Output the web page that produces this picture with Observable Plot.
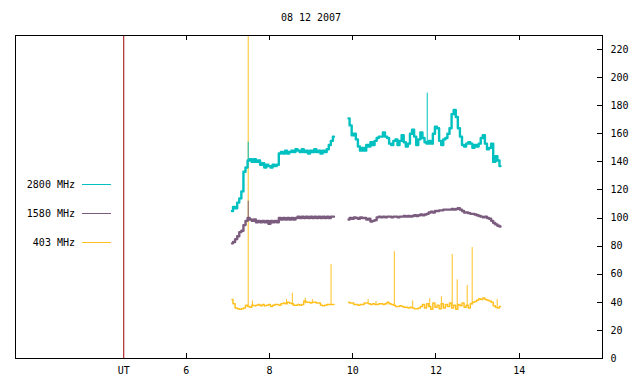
<!DOCTYPE html>
<html><head><meta charset="utf-8">
<script src="https://cdn.jsdelivr.net/npm/d3@7"></script>
<script src="https://cdn.jsdelivr.net/npm/@observablehq/plot@0.6"></script>
<style>
body{margin:0;background:#fff;}
#wrap{position:relative;width:640px;height:384px;font-family:"DejaVu Sans Mono",monospace;}
#title{position:absolute;top:12px;left:0;width:622px;text-align:center;font-size:10px;line-height:12px;color:#000;}
svg{display:block;}
</style></head><body><div id="wrap"></div>
<script>
const titleText = "08 12 2007";
const utHour = 4.5;
const xTickValues = [4.5, 6, 8, 10, 12, 14];
const xTickLabels = ["UT", "6", "8", "10", "12", "14"];
const xMinorTicks = [6, 8, 10, 12, 14];
const yTickValues = [0, 20, 40, 60, 80, 100, 120, 140, 160, 180, 200, 220];
const seriesNames = ["2800 MHz", "1580 MHz", "403 MHz"];
const seriesColors = ["#00c0c0", "#7b5c7e", "#ffc020"];

// morning segment (UT hours)
const timesA = [7.10,7.15,7.20,7.25,7.30,7.35,7.40,7.45,7.50,7.55,
  7.60,7.65,7.70,7.75,7.80,7.85,7.90,7.95,8.00,8.05,
  8.10,8.15,8.20,8.25,8.30,8.35,8.40,8.45,8.50,8.55,
  8.60,8.65,8.70,8.75,8.80,8.85,8.90,8.95,9.00,9.05,
  9.10,9.15,9.20,9.25,9.30,9.35,9.40,9.45,9.50,9.55];
const mhz2800A = [105,108,107,111,114,119,133,136,141,142,
  140,142,140,141,138,139,136,138,137,136,
  138,137,138,146,147,146,148,146,147,148,
  147,149,148,147,149,147,148,146,148,147,
  149,147,148,146,148,147,149,152,155,158];
const mhz1580A = [82,83,85,87,90,91,95,98,100,99,
  98,99,97,98,97,98,97,98,96,98,
  97,98,97,100,99,100,99,100,99,100,
  99,100,101,100,101,100,101,100,101,100,
  101,100,101,100,101,100,101,100,101,101];
const mhz403A = [42,39,36,35.5,35,35.5,36,38,37,36.5,
  38,37.5,38,38.5,37.5,38.5,37.5,38,38.5,37,
  38,38.5,38.5,38,39,39.5,39,40,39.5,39,
  38,38,38.5,38,38.5,41,40,40,39.5,40,
  40,39.5,39.5,38,37.5,38,38.5,38.5,38.5,38.5];

// afternoon segment
const timesB = [9.90,9.95,10.00,10.05,10.10,10.15,10.20,10.25,10.30,10.35,
  10.40,10.45,10.50,10.55,10.60,10.65,10.70,10.75,10.80,10.85,
  10.90,10.95,11.00,11.05,11.10,11.15,11.20,11.25,11.30,11.35,
  11.40,11.45,11.50,11.55,11.60,11.65,11.70,11.75,11.80,11.85,
  11.90,11.95,12.00,12.05,12.10,12.15,12.20,12.25,12.30,12.35,
  12.40,12.45,12.50,12.55,12.60,12.65,12.70,12.75,12.80,12.85,
  12.90,12.95,13.00,13.05,13.10,13.15,13.20,13.25,13.30,13.35,
  13.40,13.45,13.50,13.55];
const mhz2800B = [171,166,159,160,156,151,148,150,148,152,
  151,154,152,155,157,158,158,161,158,157,
  153,152,155,156,152,155,159,154,151,153,
  160,163,158,152,156,161,157,154,153,155,
  153,160,165,164,155,152,156,157,160,164,
  174,177,172,164,158,152,151,153,154,153,
  150,152,151,153,157,159,153,149,150,153,
  140,144,141,137];
const mhz1580B = [99,100,99.5,100.5,100,99.5,100.5,100,100,99,
  99.5,97.5,98,98.5,100.5,101,100.5,101,100.5,101,
  101,100.5,101,101,100.5,101,101,101.5,101,101.5,
  101,101.5,102,101.5,102,102.5,102,102.5,103,104,
  104.5,104,105,105,105.5,105.5,106,106,106,106,
  106.5,106,106.5,107,106,105,104,104,103.5,103,
  103,102.5,102,101.5,101,100.5,101,100,99.5,98,
  96.5,95.5,94.5,94];
const mhz403B = [40,39.5,39.5,38.5,38.5,38,38.5,38.5,39.5,39.5,
  39,38.5,39,38.5,38.5,39,39,38.5,39,40,
  39,38.5,38,37,37,37.5,37,36.5,36.5,36,
  36.5,36,35.5,35.5,36,37,38.5,36,39,37,
  35,39.5,36.5,38,35.5,39,36,38.5,37,39.5,
  36,38,35,38.5,37.5,39.5,36.5,38,36,39,
  40,40.5,41.5,42.5,42,43,42,41.5,41,40,
  37.5,36.5,36,37];

// single-sample spikes
const spike403Times = [7.49,7.59,8.41,8.55,8.86,9.03,9.48,10.37,10.56,11.00,11.44,11.85,12.13,12.39,12.51,12.75,12.87,13.47];
const spike403Base  = [37,37,39,39,39,40,38.5,39.5,38.5,38,36,37,37,37,36,37,38,36.5];
const spike403Peak  = [260,41,42,46.5,43,42,67,42,40.5,76,41,42.5,44,74,56,52,79,42];
const spike2800Times = [7.49, 11.79];
const spike2800Base  = [141, 154];
const spike2800Peak  = [154, 189];
const spike1580Times = [7.49];
const spike1580Base  = [100];
const spike1580Peak  = [112];

function rows(times, vals, seg) { return times.map((t, i) => ({t, v: vals[i], seg})); }
function spikes(times, base, peak) { return times.map((t, i) => ({t, base: base[i], peak: peak[i]})); }

const s2800 = rows(timesA, mhz2800A, "a").concat(rows(timesB, mhz2800B, "b"));
const s1580 = rows(timesA, mhz1580A, "a").concat(rows(timesB, mhz1580B, "b"));
const s403  = rows(timesA, mhz403A, "a").concat(rows(timesB, mhz403B, "b"));

const chart = Plot.plot({
  width: 640, height: 384,
  marginLeft: 15, marginRight: 38, marginTop: 35, marginBottom: 26,
  style: {fontFamily: "DejaVu Sans Mono, monospace", fontSize: "10px", background: "white", color: "black"},
  x: {domain: [1.9, 16]},
  y: {domain: [0, 230]},
  marks: [
    Plot.ruleX([utHour], {stroke: "#a00000", strokeWidth: 1}),
    Plot.line(s403, {x: "t", y: "v", z: "seg", curve: "step", stroke: seriesColors[2], strokeWidth: 1.5, clip: true}),
    Plot.ruleX(spikes(spike403Times, spike403Base, spike403Peak), {x: "t", y1: "base", y2: "peak", stroke: seriesColors[2], strokeWidth: 1, clip: true}),
    Plot.line(s1580, {x: "t", y: "v", z: "seg", curve: "step", stroke: seriesColors[1], strokeWidth: 2.4}),
    Plot.ruleX(spikes(spike1580Times, spike1580Base, spike1580Peak), {x: "t", y1: "base", y2: "peak", stroke: seriesColors[1], strokeWidth: 1}),
    Plot.line(s2800, {x: "t", y: "v", z: "seg", curve: "step", stroke: seriesColors[0], strokeWidth: 2.4}),
    Plot.ruleX(spikes(spike2800Times, spike2800Base, spike2800Peak), {x: "t", y1: "base", y2: "peak", stroke: seriesColors[0], strokeWidth: 1}),
    Plot.axisX({anchor: "bottom", ticks: xTickValues, tickFormat: d => xTickLabels[xTickValues.indexOf(d)], tickSize: 0, tickPadding: 8, label: null}),
    Plot.axisY({anchor: "right", ticks: yTickValues, tickSize: 0, tickPadding: 8, label: null}),
    Plot.frame({stroke: "black", strokeWidth: 1})
  ]
});

const wrap = document.getElementById("wrap");
wrap.appendChild(chart);
const title = document.createElement("div");
title.id = "title";
title.textContent = titleText;
wrap.appendChild(title);

// inward tick marks on all framed sides, using the plot's scales
const xs = chart.scale("x"), ys = chart.scale("y");
const [yBottom, yTop] = ys.range;
const [xLeft, xRight] = xs.range;
const svg = d3.select(chart);
const g = svg.append("g").attr("stroke", "black").attr("stroke-width", 1);
const tl = 5;
for (const v of xMinorTicks) {
  const px = Math.round(xs.apply(v)) + 0.5;
  g.append("line").attr("x1", px).attr("x2", px).attr("y1", yBottom).attr("y2", yBottom - tl);
  g.append("line").attr("x1", px).attr("x2", px).attr("y1", yTop).attr("y2", yTop + tl);
}
for (const v of yTickValues) {
  const py = Math.round(ys.apply(v)) + 0.5;
  g.append("line").attr("x1", xRight).attr("x2", xRight - tl).attr("y1", py).attr("y2", py);
}

// key
const key = svg.append("g").attr("font-family", "DejaVu Sans Mono, monospace").attr("font-size", 10);
seriesNames.forEach((name, i) => {
  const cy = 184.5 + i * 29;
  key.append("text").attr("x", 75).attr("y", cy).attr("dy", "0.35em").attr("text-anchor", "end").attr("fill", "black").text(name);
  key.append("line").attr("x1", 82).attr("x2", 111).attr("y1", cy).attr("y2", cy).attr("stroke", seriesColors[i]).attr("stroke-width", 1);
});
</script>
</body></html>
